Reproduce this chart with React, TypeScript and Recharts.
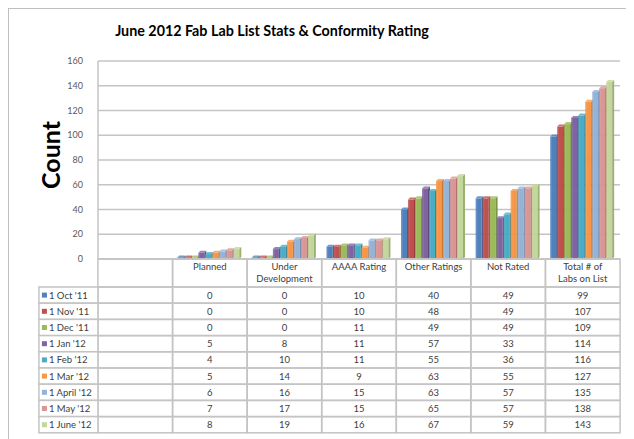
import React from 'react';
import { BarChart, Bar, XAxis, YAxis, CartesianGrid, Label } from 'recharts';

const categories = ["Planned", "Under\nDevelopment", "AAAA Rating", "Other Ratings", "Not Rated", "Total # of\nLabs on List"];
const seriesNames = ["1 Oct '11", "1 Nov '11", "1 Dec '11", "1 Jan '12", "1 Feb '12", "1 Mar '12", "1 April '12", "1 May '12", "1 June '12"];
const oct11 = [0, 0, 10, 40, 49, 99];
const nov11 = [0, 0, 10, 48, 49, 107];
const dec11 = [0, 0, 11, 49, 49, 109];
const jan12 = [5, 8, 11, 57, 33, 114];
const feb12 = [4, 10, 11, 55, 36, 116];
const mar12 = [5, 14, 9, 63, 55, 127];
const apr12 = [6, 16, 15, 63, 57, 135];
const may12 = [7, 17, 15, 65, 57, 138];
const jun12 = [8, 19, 16, 67, 59, 143];
const yTicks = [0, 20, 40, 60, 80, 100, 120, 140, 160];

const seriesValues = [oct11, nov11, dec11, jan12, feb12, mar12, apr12, may12, jun12];
const COLORS = ['#4F81BD', '#C0504D', '#9BBB59', '#8064A2', '#4BACC6', '#F79646', '#95B3D7', '#D99694', '#C3D69B'];
const SIDE = ['#3A6397', '#97393A', '#779543', '#5F4A7B', '#31879D', '#C8772F', '#6F8DB5', '#B26F6D', '#9BB072'];

// leading blank column, as in the original table
const allCats = ["", ...categories];
const data = allCats.map((cat, ci) => {
  const row: any = { cat };
  seriesValues.forEach((vals, si) => {
    row['s' + si] = ci === 0 ? null : vals[ci - 1];
  });
  return row;
});

const W = 626;
const H = 431;
const Y_W = 89;
const M = { top: 52, right: 14, bottom: 6, left: 0 };
const COL_W = (W - Y_W - M.right - M.left) / allCats.length;
const HEADER_H = 28;
const ROW_H = 16.2;
const LEG_W = 59;
const GRID = '#C4C4C4';
const TXT = '#404040';
const FONT = 'Lato, "Open Sans", sans-serif';
const D = 2;

function TableTick(props: any) {
  const { x, y, payload } = props;
  const ci = allCats.indexOf(payload.value);
  const left = x - COL_W / 2;
  const lines = String(payload.value).split('\n');
  const cells: any[] = [];
  cells.push(<rect key="h" x={left} y={y} width={COL_W} height={HEADER_H} fill="none" stroke={GRID} strokeWidth={1.5} />);
  lines.forEach((ln, li) => {
    cells.push(
      <text key={'hl' + li} x={x} y={y + 11 + li * 12} textAnchor="middle" fontSize={9.5} fill={TXT} fontFamily={FONT}>{ln}</text>
    );
  });
  seriesValues.forEach((vals, si) => {
    const ry = y + HEADER_H + si * ROW_H;
    cells.push(<rect key={'r' + si} x={left} y={ry} width={COL_W} height={ROW_H} fill="none" stroke={GRID} strokeWidth={1.5} />);
    if (ci > 0) {
      cells.push(
        <text key={'v' + si} x={x} y={ry + ROW_H / 2 + 3.5} textAnchor="middle" fontSize={9.5} fill={TXT} fontFamily={FONT}>{vals[ci - 1]}</text>
      );
    }
    if (ci === 0) {
      const lx = left - LEG_W;
      cells.push(<rect key={'l' + si} x={lx} y={ry} width={LEG_W} height={ROW_H} fill="#fff" stroke={GRID} strokeWidth={1.5} />);
      cells.push(<rect key={'sw' + si} x={lx + 3} y={ry + ROW_H / 2 - 2.5} width={5} height={5} fill={COLORS[si]} />);
      cells.push(
        <text key={'lt' + si} x={lx + 10} y={ry + ROW_H / 2 + 3.5} fontSize={9.5} fill={TXT} fontFamily={FONT}>{seriesNames[si]}</text>
      );
    }
  });
  return <g>{cells}</g>;
}

function CountLabel() {
  const cx = 41;
  const cy = 146;
  return (
    <text x={cx} y={cy} transform={`rotate(-90 ${cx} ${cy})`} textAnchor="middle" dominantBaseline="central" fontSize={25} fontWeight="bold" fill="#000" fontFamily={FONT}>Count</text>
  );
}

function makeShape(si: number) {
  return (props: any) => {
    const { x, y, width, height, value } = props;
    if (value == null || x == null) return <g />;
    let top = y;
    let h = height;
    if (h < 1.5) { top = y + h - 1.5; h = 1.5; }
    const fw = width - D + 1;
    const fx = x + 1;
    return (
      <g>
        <rect x={fx} y={top} width={fw} height={h} fill={`url(#g${si})`} />
        <polygon points={`${fx + fw},${top} ${fx + fw + D},${top - D} ${fx + fw + D},${top + h - D} ${fx + fw},${top + h}`} fill={SIDE[si]} />
        <polygon points={`${fx},${top} ${fx + D},${top - D} ${fx + fw + D},${top - D} ${fx + fw},${top}`} fill={COLORS[si]} opacity={0.8} />
      </g>
    );
  };
}

export default function App() {
  return (
    <div style={{ position: 'relative', width: W, height: H, borderLeft: '1px solid #BFBFBF', borderTop: '1px solid #BFBFBF', boxSizing: 'border-box', background: '#fff' }}>
      <div style={{ position: 'absolute', left: 0, top: 13, width: 526, textAlign: 'center', fontFamily: FONT, fontWeight: 'bold', fontSize: 14.3, color: '#000' }}>
        June 2012 Fab Lab List Stats &amp; Conformity Rating
      </div>
      <BarChart width={W - 1} height={H - 1} data={data} margin={M} barCategoryGap="5%" barGap={0}>
        <defs>
          {COLORS.map((c, i) => (
            <linearGradient key={i} id={'g' + i} x1="0" y1="0" x2="1" y2="0">
              <stop offset="0%" stopColor={c} stopOpacity={0.8} />
              <stop offset="40%" stopColor={c} stopOpacity={1} />
              <stop offset="100%" stopColor={c} stopOpacity={1} />
            </linearGradient>
          ))}
        </defs>
        <CartesianGrid vertical={false} stroke={GRID} strokeWidth={1.5} />
        <XAxis dataKey="cat" interval={0} tickLine={false} tickSize={0} tickMargin={0} height={174} axisLine={{ stroke: GRID, strokeWidth: 1.5 }} tick={<TableTick />} />
        <YAxis width={Y_W} domain={[0, 160]} ticks={yTicks} tickLine={false} tickMargin={9} axisLine={{ stroke: GRID, strokeWidth: 1.5 }} tick={{ fontSize: 9, fill: '#595959', fontFamily: FONT }}>
          <Label content={<CountLabel />} />
        </YAxis>
        {seriesNames.map((n, si) => (
          <Bar key={si} dataKey={'s' + si} name={n} fill={COLORS[si]} shape={makeShape(si)} isAnimationActive={false} />
        ))}
      </BarChart>
    </div>
  );
}
